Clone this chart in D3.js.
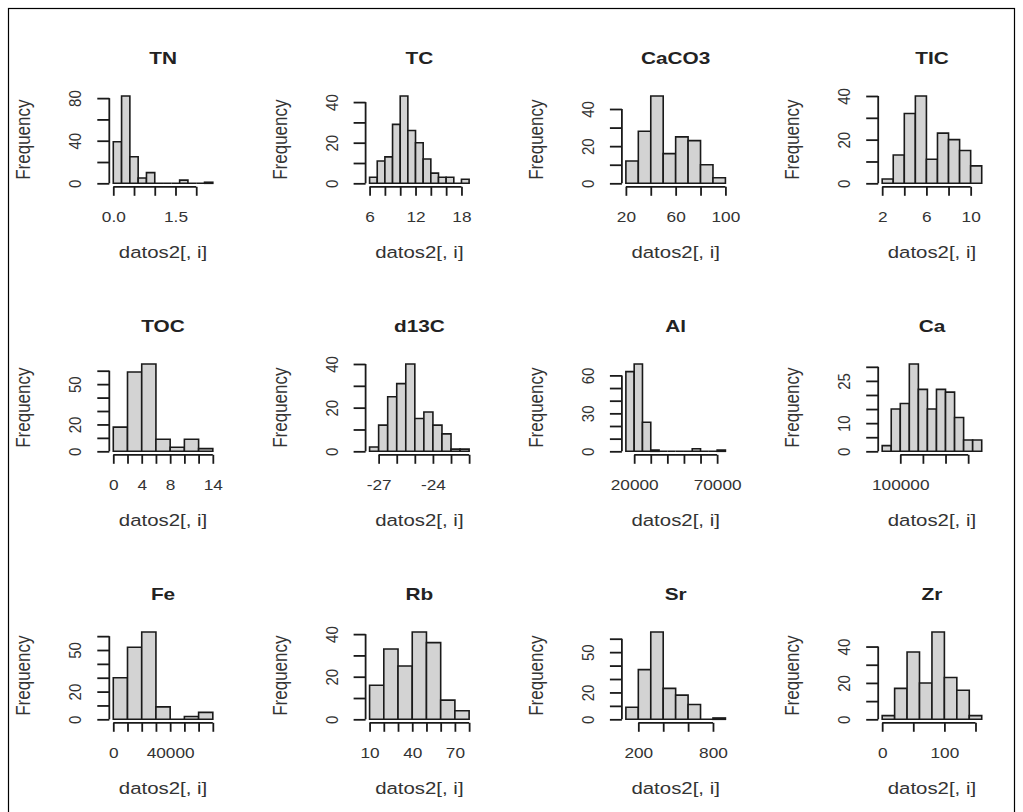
<!DOCTYPE html>
<html>
<head>
<meta charset="utf-8">
<script src="https://cdn.jsdelivr.net/npm/d3@7"></script>
<style>
  body { margin: 0; background: #fff; }
  svg { display: block; }
</style>
</head>
<body>
<svg width="1023" height="812"></svg>
<script>
// histogram panels, one per variable (3 rows x 4 cols)
const titles = ["TN", "TC", "CaCO3", "TIC", "TOC", "d13C", "Al", "Ca", "Fe", "Rb", "Sr", "Zr"];

const breaks = [
  [0, 0.2, 0.4, 0.6, 0.8, 1.0, 1.2, 1.4, 1.6, 1.8, 2.0, 2.2, 2.4],
  [6, 7, 8, 9, 10, 11, 12, 13, 14, 15, 16, 17, 18, 19],
  [20, 30, 40, 50, 60, 70, 80, 90, 100],
  [2, 3, 4, 5, 6, 7, 8, 9, 10, 11],
  [0, 2, 4, 6, 8, 10, 12, 14],
  [-27.5, -27, -26.5, -26, -25.5, -25, -24.5, -24, -23.5, -23, -22.5, -22],
  [15000, 20000, 25000, 30000, 35000, 40000, 45000, 50000, 55000, 60000, 65000, 70000, 75000],
  [60000, 80000, 100000, 120000, 140000, 160000, 180000, 200000, 220000, 240000, 260000, 280000],
  [0, 10000, 20000, 30000, 40000, 50000, 60000, 70000],
  [10, 20, 30, 40, 50, 60, 70, 80],
  [100, 200, 300, 400, 500, 600, 700, 800, 900],
  [0, 20, 40, 60, 80, 100, 120, 140, 160]
];

const counts = [
  [39, 82, 25, 5, 10, 0, 0, 0, 3, 0, 0, 1],
  [3, 11, 13, 29, 43, 26, 20, 12, 5, 3, 3, 0, 2],
  [12, 28, 47, 16, 25, 23, 10, 3],
  [2, 13, 32, 40, 11, 23, 20, 15, 8],
  [18, 59, 65, 9, 3, 9, 2],
  [2, 12, 25, 31, 40, 15, 18, 12, 8, 1, 1],
  [63, 69, 23, 1, 0, 0, 0, 0, 2, 0, 0, 1],
  [2, 15, 17, 31, 22, 15, 22, 21, 12, 4, 4],
  [30, 52, 63, 9, 0, 2, 5],
  [16, 33, 25, 41, 36, 9, 4],
  [9, 37, 65, 23, 18, 11, 0, 1],
  [2, 17, 37, 20, 48, 23, 16, 2]
];

const xTicks = [
  [0, 0.5, 1, 1.5, 2],
  [6, 8, 10, 12, 14, 16, 18],
  [20, 40, 60, 80, 100],
  [2, 4, 6, 8, 10],
  [0, 2, 4, 6, 8, 10, 12, 14],
  [-27, -26, -25, -24, -23, -22],
  [20000, 30000, 40000, 50000, 60000, 70000],
  [100000, 150000, 200000, 250000],
  [0, 10000, 20000, 30000, 40000, 50000, 60000, 70000],
  [10, 20, 30, 40, 50, 60, 70, 80],
  [200, 400, 600, 800],
  [0, 50, 100, 150]
];
const xLabels = [
  ["0.0", "", "", "1.5", ""],
  ["6", "", "", "12", "", "", "18"],
  ["20", "", "60", "", "100"],
  ["2", "", "6", "", "10"],
  ["0", "", "4", "", "8", "", "", "14"],
  ["-27", "", "", "-24", "", ""],
  ["20000", "", "", "", "", "70000"],
  ["100000", "", "", ""],
  ["0", "", "", "", "40000", "", "", ""],
  ["10", "", "", "40", "", "", "70", ""],
  ["200", "", "", "800"],
  ["0", "", "100", ""]
];

const yTicks = [
  [0, 20, 40, 60, 80],
  [0, 10, 20, 30, 40],
  [0, 10, 20, 30, 40],
  [0, 10, 20, 30, 40],
  [0, 10, 20, 30, 40, 50, 60],
  [0, 10, 20, 30, 40],
  [0, 10, 20, 30, 40, 50, 60],
  [0, 5, 10, 15, 20, 25, 30],
  [0, 10, 20, 30, 40, 50, 60],
  [0, 10, 20, 30, 40],
  [0, 10, 20, 30, 40, 50, 60],
  [0, 10, 20, 30, 40]
];
const yLabels = [
  ["0", "", "40", "", "80"],
  ["0", "", "20", "", "40"],
  ["0", "", "20", "", "40"],
  ["0", "", "20", "", "40"],
  ["0", "", "20", "", "", "50", ""],
  ["0", "", "20", "", "40"],
  ["0", "", "", "30", "", "", "60"],
  ["0", "", "10", "", "", "25", ""],
  ["0", "", "20", "", "", "50", ""],
  ["0", "", "20", "", "40"],
  ["0", "", "20", "", "", "50", ""],
  ["0", "", "20", "", "40"]
];

const xTitle = "datos2[, i]";
const yTitle = "Frequency";

var svg = d3.select("svg");
var font = "'Liberation Sans', Arial, sans-serif";
var ink = "#1a1a1a";
var sx = 1.15; // picture is a bit wider than tall

svg.append("rect")
  .attr("x", 8.5).attr("y", 8.5)
  .attr("width", 1006).attr("height", 820)
  .attr("fill", "none").attr("stroke", "#000").attr("stroke-width", 1.2);

var pw = 107.5, ph = 94.3;

titles.forEach(function (t, k) {
  var col = k % 4, row = Math.floor(k / 4);
  var left = 109.3 + col * 256.3;
  var top = 92.5 + row * 268;
  var bottom = top + ph;

  var b = breaks[k], c = counts[k];
  var xr = b[b.length - 1] - b[0];
  var ymax = d3.max(c);
  var x = d3.scaleLinear()
    .domain([b[0] - 0.04 * xr, b[b.length - 1] + 0.04 * xr])
    .range([left, left + pw]);
  var y = d3.scaleLinear()
    .domain([-0.04 * ymax, ymax * 1.04])
    .range([bottom, top]);

  var g = svg.append("g");

  // bars (path so that empty bins still show as a flat line)
  g.append("g")
    .selectAll("path")
    .data(c)
    .enter()
    .append("path")
      .attr("d", function (d, i) {
        var x0 = x(b[i]), x1 = x(b[i + 1]), y0 = y(0), y1 = y(d);
        return "M" + x0 + "," + y0 + "V" + y1 + "H" + x1 + "V" + y0 + "Z";
      })
      .attr("fill", "#d3d3d3")
      .attr("stroke", ink)
      .attr("stroke-width", 1.6);

  // x axis
  var xt = xTicks[k], xl = xLabels[k];
  var ax = g.append("g")
    .attr("transform", "translate(0," + bottom + ")")
    .call(d3.axisBottom(x).tickValues(xt)
      .tickFormat(function (d, i) { return xl[i]; })
      .tickSize(9).tickSizeOuter(0));
  ax.select(".domain").remove();
  ax.append("line")
    .attr("x1", x(xt[0])).attr("x2", x(xt[xt.length - 1]))
    .attr("stroke", ink).attr("stroke-width", 1.8);
  ax.selectAll(".tick line").attr("stroke", ink).attr("stroke-width", 1.8);
  ax.selectAll(".tick text")
    .attr("y", null).attr("dy", null)
    .attr("transform", "translate(0,35) scale(" + sx + ",1)")
    .attr("font-family", font).attr("font-size", "15px").attr("fill", "#333");

  // y axis
  var yt = yTicks[k], yl = yLabels[k];
  var ay = g.append("g")
    .attr("transform", "translate(" + left + ",0)")
    .call(d3.axisLeft(y).tickValues(yt)
      .tickFormat(function (d, i) { return yl[i]; })
      .tickSize(12).tickSizeOuter(0));
  ay.select(".domain").remove();
  ay.append("line")
    .attr("y1", y(yt[0])).attr("y2", y(yt[yt.length - 1]))
    .attr("stroke", ink).attr("stroke-width", 1.8);
  ay.selectAll(".tick line").attr("stroke", ink).attr("stroke-width", 1.8);
  ay.selectAll(".tick text")
    .attr("x", null).attr("dy", null)
    .attr("text-anchor", "middle")
    .attr("transform", "translate(-28,0) scale(" + sx + ",1) rotate(-90)")
    .attr("font-family", font).attr("font-size", "15px").attr("fill", "#333");

  // titles
  g.append("text")
    .attr("transform", "translate(" + (left + pw / 2) + "," + (top - 29) + ") scale(1.3,1)")
    .attr("text-anchor", "middle")
    .attr("font-family", font).attr("font-weight", "bold").attr("font-size", "16px")
    .attr("fill", "#222")
    .text(t);

  g.append("text")
    .attr("transform", "translate(" + (left + pw / 2) + "," + (bottom + 71) + ") scale(1.2,1)")
    .attr("text-anchor", "middle")
    .attr("font-family", font).attr("font-size", "17px")
    .attr("fill", "#333")
    .text(xTitle);

  g.append("text")
    .attr("transform", "translate(" + (left - 79) + "," + (top + ph / 2) + ") scale(1.2,1) rotate(-90)")
    .attr("text-anchor", "middle")
    .attr("font-family", font).attr("font-size", "17px")
    .attr("fill", "#333")
    .text(yTitle);
});
</script>
</body>
</html>
